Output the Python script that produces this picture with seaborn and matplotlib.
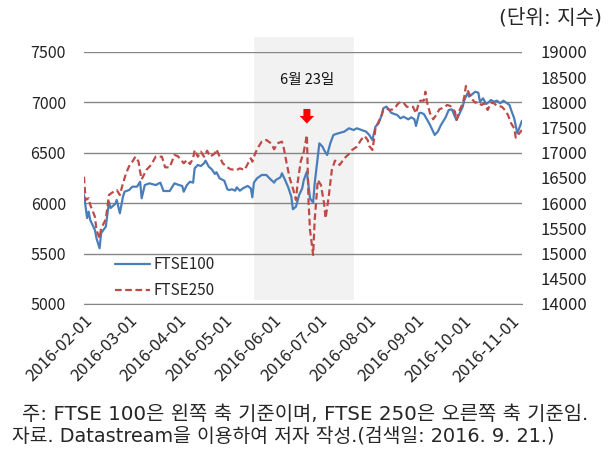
"""
FTSE100 vs FTSE250, 2016 (Brexit referendum period)
"""

import numpy as np
import pandas as pd
import seaborn as sns
import matplotlib.pyplot as plt
import matplotlib.dates as mdates
from matplotlib.lines import Line2D


# data
ftse100_dates = [
    "2016-02-01", "2016-02-03", "2016-02-04", "2016-02-05", "2016-02-08", "2016-02-09",
    "2016-02-11", "2016-02-12", "2016-02-15", "2016-02-17", "2016-02-18", "2016-02-21",
    "2016-02-22", "2016-02-24", "2016-02-26", "2016-02-27", "2016-03-01", "2016-03-03",
    "2016-03-06", "2016-03-08", "2016-03-09", "2016-03-11", "2016-03-14", "2016-03-18",
    "2016-03-21", "2016-03-23", "2016-03-27", "2016-03-30", "2016-04-02", "2016-04-04",
    "2016-04-05", "2016-04-07", "2016-04-09", "2016-04-11", "2016-04-12", "2016-04-14",
    "2016-04-16", "2016-04-18", "2016-04-19", "2016-04-21", "2016-04-23", "2016-04-25",
    "2016-04-26", "2016-04-28", "2016-05-01", "2016-05-03", "2016-05-04", "2016-05-06",
    "2016-05-08", "2016-05-09", "2016-05-11", "2016-05-13", "2016-05-16", "2016-05-18",
    "2016-05-19", "2016-05-20", "2016-05-22", "2016-05-25", "2016-05-28", "2016-05-30",
    "2016-06-02", "2016-06-03", "2016-06-06", "2016-06-07", "2016-06-09", "2016-06-11",
    "2016-06-13", "2016-06-14", "2016-06-16", "2016-06-18", "2016-06-20", "2016-06-21",
    "2016-06-23", "2016-06-24", "2016-06-25", "2016-06-27", "2016-06-28", "2016-07-01",
    "2016-07-03", "2016-07-04", "2016-07-06", "2016-07-08", "2016-07-10", "2016-07-13",
    "2016-07-17", "2016-07-20", "2016-07-23", "2016-07-25", "2016-07-28", "2016-07-31",
    "2016-08-02", "2016-08-04", "2016-08-05", "2016-08-06", "2016-08-08", "2016-08-10",
    "2016-08-11", "2016-08-13", "2016-08-14", "2016-08-16", "2016-08-18", "2016-08-20",
    "2016-08-22", "2016-08-24", "2016-08-27", "2016-08-29", "2016-08-31", "2016-09-01",
    "2016-09-03", "2016-09-04", "2016-09-06", "2016-09-08", "2016-09-10", "2016-09-12",
    "2016-09-13", "2016-09-15", "2016-09-17", "2016-09-19", "2016-09-20", "2016-09-22",
    "2016-09-24", "2016-09-26", "2016-09-27", "2016-09-29", "2016-10-01", "2016-10-02",
    "2016-10-04", "2016-10-05", "2016-10-07", "2016-10-09", "2016-10-11", "2016-10-12",
    "2016-10-14", "2016-10-16", "2016-10-18", "2016-10-19", "2016-10-21", "2016-10-23",
    "2016-10-25", "2016-10-27", "2016-10-28", "2016-10-31", "2016-11-01", "2016-11-03",
    "2016-11-05", "2016-11-08",
]
ftse100 = [
    6081, 5853, 5916, 5833, 5734, 5652,
    5553, 5704, 5767, 6015, 5952, 5992,
    6032, 5900, 6065, 6114, 6131, 6164,
    6164, 6213, 6049, 6180, 6197, 6180,
    6204, 6121, 6121, 6197, 6180, 6171,
    6114, 6180, 6213, 6204, 6346, 6379,
    6369, 6396, 6422, 6363, 6336, 6290,
    6307, 6247, 6223, 6138, 6131, 6138,
    6124, 6157, 6124, 6148, 6171, 6148,
    6058, 6204, 6247, 6280, 6280, 6247,
    6204, 6230, 6257, 6297, 6230, 6158,
    6065, 5940, 5966, 6081, 6148, 6230,
    6313, 6180, 6049, 6005, 6197, 6594,
    6561, 6528, 6478, 6594, 6677, 6693,
    6710, 6743, 6726, 6743, 6726, 6710,
    6677, 6627, 6693, 6759, 6793, 6875,
    6941, 6958, 6941, 6898, 6885, 6875,
    6842, 6858, 6832, 6852, 6832, 6766,
    6892, 6898, 6885, 6832, 6776, 6710,
    6677, 6710, 6776, 6826, 6852, 6925,
    6931, 6858, 6826, 6892, 6958, 7024,
    7090, 7057, 7080, 7106, 7096, 7007,
    7040, 6984, 7007, 7024, 7007, 7017,
    6991, 7017, 7007, 6974, 6925, 6842,
    6693, 6819,
]

ftse250_dates = [
    "2016-02-01", "2016-02-02", "2016-02-04", "2016-02-05", "2016-02-08", "2016-02-09",
    "2016-02-11", "2016-02-12", "2016-02-15", "2016-02-17", "2016-02-19", "2016-02-22",
    "2016-02-24", "2016-02-26", "2016-02-28", "2016-03-01", "2016-03-03", "2016-03-05",
    "2016-03-07", "2016-03-08", "2016-03-09", "2016-03-12", "2016-03-15", "2016-03-18",
    "2016-03-22", "2016-03-24", "2016-03-27", "2016-03-30", "2016-04-01", "2016-04-03",
    "2016-04-05", "2016-04-07", "2016-04-09", "2016-04-11", "2016-04-12", "2016-04-14",
    "2016-04-16", "2016-04-18", "2016-04-20", "2016-04-22", "2016-04-25", "2016-04-26",
    "2016-04-28", "2016-04-30", "2016-05-03", "2016-05-05", "2016-05-09", "2016-05-11",
    "2016-05-14", "2016-05-16", "2016-05-18", "2016-05-19", "2016-05-21", "2016-05-23",
    "2016-05-25", "2016-05-28", "2016-05-31", "2016-06-02", "2016-06-04", "2016-06-07",
    "2016-06-08", "2016-06-10", "2016-06-12", "2016-06-14", "2016-06-16", "2016-06-17",
    "2016-06-19", "2016-06-21", "2016-06-23", "2016-06-24", "2016-06-25", "2016-06-27",
    "2016-06-28", "2016-06-30", "2016-07-02", "2016-07-04", "2016-07-05", "2016-07-07",
    "2016-07-09", "2016-07-11", "2016-07-14", "2016-07-17", "2016-07-20", "2016-07-22",
    "2016-07-25", "2016-07-28", "2016-07-30", "2016-08-01", "2016-08-02", "2016-08-04",
    "2016-08-05", "2016-08-06", "2016-08-08", "2016-08-10", "2016-08-11", "2016-08-13",
    "2016-08-15", "2016-08-17", "2016-08-19", "2016-08-21", "2016-08-24", "2016-08-26",
    "2016-08-28", "2016-08-30", "2016-09-01", "2016-09-03", "2016-09-04", "2016-09-06",
    "2016-09-07", "2016-09-08", "2016-09-10", "2016-09-12", "2016-09-14", "2016-09-16",
    "2016-09-19", "2016-09-21", "2016-09-23", "2016-09-26", "2016-09-27", "2016-09-29",
    "2016-10-01", "2016-10-02", "2016-10-03", "2016-10-05", "2016-10-07", "2016-10-09",
    "2016-10-11", "2016-10-13", "2016-10-15", "2016-10-17", "2016-10-19", "2016-10-21",
    "2016-10-23", "2016-10-26", "2016-10-28", "2016-10-30", "2016-11-01", "2016-11-03",
    "2016-11-04", "2016-11-08",
]
ftse250 = [
    16526, 16064, 16098, 15965, 15733, 15468,
    15304, 15502, 15681, 16163, 16209, 16262,
    16163, 16395, 16593, 16738, 16824, 16923,
    16824, 16625, 16474, 16659, 16758, 16923,
    16923, 16712, 16712, 16956, 16937, 16871,
    16792, 16857, 16778, 16890, 17056, 16923,
    17022, 16923, 17042, 16923, 16990, 17070,
    16923, 16792, 16712, 16673, 16659, 16692,
    16659, 16778, 16890, 16824, 17002, 17121,
    17221, 17254, 17188, 17070, 17188, 17221,
    17121, 16792, 16494, 16296, 16064, 16395,
    16824, 17022, 17353, 16064, 15468, 14972,
    15667, 16460, 16361, 16000, 15700, 16130,
    16659, 16845, 16758, 16890, 16976, 17056,
    17121, 17268, 17333, 17254, 17135, 17056,
    17254, 17486, 17617, 17750, 17849, 17883,
    17849, 17863, 17915, 17994, 17994, 17915,
    17903, 17915, 17784, 18014, 18034, 18034,
    18212, 18014, 17784, 17665, 17750, 17863,
    17900, 17948, 17929, 17816, 17651, 17849,
    17982, 18113, 18325, 18181, 18062, 17994,
    18014, 17948, 17982, 17849, 17994, 17982,
    17929, 17915, 17849, 17750, 17585, 17486,
    17300, 17452,
]

month_ticks = ["2016-02-01", "2016-03-01", "2016-04-01", "2016-05-01", "2016-06-01",
               "2016-07-01", "2016-08-01", "2016-09-01", "2016-10-01", "2016-11-01"]
left_ticks = [5000, 5500, 6000, 6500, 7000, 7500]
right_ticks = [14000, 14500, 15000, 15500, 16000, 16500, 17000, 17500, 18000, 18500, 19000]
shade_span = ["2016-05-20", "2016-07-23"]
event_date = "2016-06-23"


# configurations
sns.set_style("white")
plt.rcParams["font.family"] = ["Noto Sans CJK KR", "DejaVu Sans"]
WIDE = ["DejaVu Sans", "Noto Sans CJK KR"]   # wider latin for the notes

BLUE = "#4a7ebb"
RED = "#be4b48"
GRID = "#868686"
DASH = (0, (3, 1.6))


df100 = pd.DataFrame({"date": pd.to_datetime(ftse100_dates), "value": ftse100})
df250 = pd.DataFrame({"date": pd.to_datetime(ftse250_dates), "value": ftse250})

# instantiate
fig = plt.figure(figsize=(6.11, 4.54), dpi=100)
ax = fig.add_axes([84 / 611, 1 - 304 / 454, 438 / 611, 252 / 454])
ax2 = ax.twinx()

# shaded period around the referendum
span = ax.axvspan(pd.Timestamp(shade_span[0]), pd.Timestamp(shade_span[1]),
                  ymin=0.015, ymax=1.06, color="#f2f2f2", zorder=0, lw=0)
span.set_clip_on(False)

# plot data
sns.lineplot(data=df100, x="date", y="value", ax=ax, color=BLUE, lw=1.6, legend=False, zorder=3)
sns.lineplot(data=df250, x="date", y="value", ax=ax2, color=RED, lw=1.6, legend=False,
             linestyle=DASH, zorder=3)

# axes limits and ticks
ax.set_xlim(pd.Timestamp("2016-02-01"), pd.Timestamp("2016-11-08"))
ax.set_ylim(5000, 7500)
ax2.set_ylim(14000, 19000)
ax.set_yticks(left_ticks)
ax2.set_yticks(right_ticks)
ax.set_xticks(pd.to_datetime(month_ticks))
ax.xaxis.set_major_formatter(mdates.DateFormatter("%Y-%m-%d"))

ax.grid(axis="y", color=GRID, lw=1)
ax.grid(axis="x", visible=False)
ax2.grid(False)
for a in (ax, ax2):
    for s in ("top", "left", "right", "bottom"):
        a.spines[s].set_visible(False)
ax.spines["bottom"].set_visible(True)
ax.spines["bottom"].set_color(GRID)

ax.tick_params(axis="y", length=0, pad=13, labelsize=11.5, labelcolor="#222222")
ax2.tick_params(axis="y", length=0, pad=13, labelsize=12, labelcolor="#222222")
ax.tick_params(axis="x", length=5, color=GRID, direction="out", pad=1,
               labelsize=12, labelcolor="#222222")
plt.setp(ax.get_xticklabels(), rotation=45, ha="right", va="top", rotation_mode="anchor")
ax.set_xlabel("")
ax.set_ylabel("")
ax2.set_ylabel("")

# event marker
ev = pd.Timestamp(event_date)
ax.text(ev, 7225, "6월 23일", ha="center", va="center", fontsize=10.5, color="#111111")
ax.annotate("", xy=(ev, 6790), xytext=(ev, 6935),
            arrowprops=dict(arrowstyle="simple,head_width=1.05,head_length=0.55,tail_width=0.5",
                            color="#ff0000", lw=0, shrinkA=0, shrinkB=0), zorder=5)

# legend
handles = [Line2D([0], [0], color=BLUE, lw=1.6),
           Line2D([0], [0], color=RED, lw=1.6, linestyle=DASH)]
ax2.legend(handles, ["FTSE100", "FTSE250"], loc="lower left", bbox_to_anchor=(0.04, -0.035),
           frameon=False, fontsize=11, handlelength=2.3, handletextpad=0.2, labelspacing=0.6)

# texts
fig.text(602 / 611, 1 - 18 / 454, "(단위: 지수)", ha="right", va="center", fontsize=14.5, family=WIDE)
fig.text(22 / 611, 1 - 414 / 454, "주: FTSE 100은 왼쪽 축 기준이며, FTSE 250은 오른쪽 축 기준임.",
         ha="left", va="center", fontsize=14.3, family=WIDE)
fig.text(12 / 611, 1 - 436 / 454, "자료. Datastream을 이용하여 저자 작성.(검색일: 2016. 9. 21.)",
         ha="left", va="center", fontsize=13.9, family=WIDE)

plt.savefig("out.png", dpi=100)
